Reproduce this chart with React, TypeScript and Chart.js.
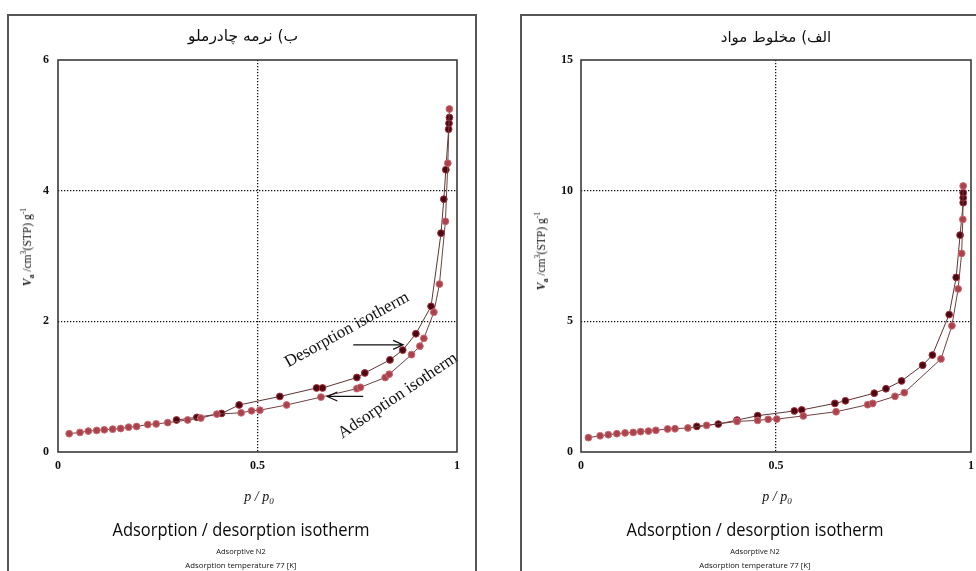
import React, { useEffect, useRef } from 'react';
import { Chart, registerables } from 'chart.js';
Chart.register(...registerables);

// ---------- data: left panel (ب) نرمه چادرملو) ----------
const leftAdsP = [0.028, 0.055, 0.076, 0.097, 0.116, 0.137, 0.157, 0.177, 0.197, 0.225, 0.246, 0.275, 0.325, 0.358, 0.398, 0.459, 0.485, 0.506, 0.573, 0.659, 0.749, 0.758, 0.82, 0.83, 0.886, 0.907, 0.917, 0.942, 0.956, 0.971, 0.977, 0.981];
const leftAdsV = [0.28, 0.30, 0.32, 0.33, 0.34, 0.35, 0.36, 0.38, 0.39, 0.42, 0.43, 0.45, 0.49, 0.52, 0.58, 0.60, 0.63, 0.64, 0.72, 0.84, 0.97, 0.99, 1.14, 1.19, 1.49, 1.62, 1.74, 2.14, 2.57, 3.53, 4.42, 5.25];
const leftDesP = [0.297, 0.348, 0.41, 0.454, 0.556, 0.648, 0.663, 0.749, 0.769, 0.832, 0.864, 0.897, 0.935, 0.960, 0.967, 0.972, 0.979, 0.980, 0.981];
const leftDesV = [0.49, 0.53, 0.59, 0.72, 0.85, 0.98, 0.98, 1.14, 1.21, 1.41, 1.56, 1.81, 2.23, 3.35, 3.87, 4.32, 4.94, 5.03, 5.12];
const leftYTicks = [0, 2, 4, 6];

// ---------- data: right panel (الف) مخلوط مواد) ----------
const rightAdsP = [0.019, 0.049, 0.070, 0.092, 0.113, 0.134, 0.153, 0.173, 0.192, 0.222, 0.241, 0.274, 0.322, 0.40, 0.453, 0.480, 0.502, 0.570, 0.654, 0.735, 0.748, 0.805, 0.829, 0.923, 0.951, 0.967, 0.976, 0.979, 0.980];
const rightAdsV = [0.55, 0.62, 0.66, 0.70, 0.73, 0.75, 0.78, 0.80, 0.83, 0.88, 0.89, 0.92, 1.02, 1.17, 1.21, 1.25, 1.26, 1.38, 1.54, 1.81, 1.86, 2.13, 2.27, 3.56, 4.83, 6.24, 7.6, 8.9, 10.18];
const rightDesP = [0.297, 0.352, 0.40, 0.453, 0.547, 0.566, 0.651, 0.678, 0.752, 0.782, 0.822, 0.876, 0.901, 0.944, 0.962, 0.972, 0.980, 0.980, 0.980];
const rightDesV = [0.98, 1.07, 1.22, 1.39, 1.57, 1.61, 1.86, 1.96, 2.25, 2.42, 2.72, 3.32, 3.71, 5.26, 6.68, 8.3, 9.54, 9.73, 9.92];
const rightYTicks = [0, 5, 10, 15];

const xTicks = [0, 0.5, 1];
const xTickLabels = ['0', '0.5', '1'];

// annotations (left panel), in data coordinates
const leftNotes = [
  { text: 'Desorption isotherm', p: 0.724, v: 1.87, angle: -29 },
  { text: 'Adsorption isotherm', p: 0.852, v: 0.86, angle: -34 },
];
const leftArrows = [
  { p0: 0.74, v0: 1.64, p1: 0.865, v1: 1.64 },
  { p0: 0.765, v0: 0.85, p1: 0.675, v1: 0.85 },
];

type Note = { text: string; p: number; v: number; angle: number };
type Arrow = { p0: number; v0: number; p1: number; v1: number };

const framePlugin = {
  id: 'frame',
  afterDraw(chart: any) {
    const { ctx, chartArea: a } = chart;
    ctx.save();
    ctx.strokeStyle = '#3a3a3a';
    ctx.lineWidth = 1.6;
    ctx.strokeRect(a.left, a.top, a.right - a.left, a.bottom - a.top);
    ctx.restore();
  },
};

const notesPlugin = {
  id: 'notes',
  afterDatasetsDraw(chart: any, _args: any, opts: any) {
    const notes: Note[] = opts.notes || [];
    const arrows: Arrow[] = opts.arrows || [];
    const { ctx, scales } = chart;
    const xs = scales.x, ys = scales.y;
    ctx.save();
    ctx.fillStyle = '#111';
    ctx.font = '17px "Liberation Serif", "DejaVu Serif", serif';
    ctx.textAlign = 'center';
    ctx.textBaseline = 'middle';
    for (const n of notes) {
      ctx.save();
      ctx.translate(xs.getPixelForValue(n.p), ys.getPixelForValue(n.v));
      ctx.rotate((n.angle * Math.PI) / 180);
      ctx.fillText(n.text, 0, 0);
      ctx.restore();
    }
    ctx.strokeStyle = '#111';
    ctx.lineWidth = 1.2;
    for (const ar of arrows) {
      const x0 = xs.getPixelForValue(ar.p0), y0 = ys.getPixelForValue(ar.v0);
      const x1 = xs.getPixelForValue(ar.p1), y1 = ys.getPixelForValue(ar.v1);
      const ang = Math.atan2(y1 - y0, x1 - x0);
      const hl = 11, ha = 0.42;
      ctx.beginPath();
      ctx.moveTo(x0, y0);
      ctx.lineTo(x1, y1);
      ctx.moveTo(x1 - hl * Math.cos(ang - ha), y1 - hl * Math.sin(ang - ha));
      ctx.lineTo(x1, y1);
      ctx.lineTo(x1 - hl * Math.cos(ang + ha), y1 - hl * Math.sin(ang + ha));
      ctx.stroke();
    }
    ctx.restore();
  },
};

const zip = (p: number[], v: number[]) => p.map((x, i) => ({ x, y: v[i] }));

type PanelProps = {
  left: number; width: number; yAxisWidth: number; padRight: number; yPad: number;
  adsP: number[]; adsV: number[]; desP: number[]; desV: number[];
  yMax: number; yTicks: number[]; notes?: Note[]; arrows?: Arrow[];
};

function Panel(props: PanelProps) {
  const ref = useRef<HTMLCanvasElement | null>(null);
  useEffect(() => {
    if (!ref.current) return;
    const tickFont = { family: '"Liberation Serif", "DejaVu Serif", serif', size: 12, weight: 'bold' as const };
    const interiorGrid = (ctx: any, lo: number, hi: number) =>
      ctx.tick && ctx.tick.value > lo && ctx.tick.value < hi ? '#111' : 'rgba(0,0,0,0)';
    const chart = new Chart(ref.current, {
      type: 'scatter',
      data: {
        datasets: [
          {
            label: 'Adsorption',
            data: zip(props.adsP, props.adsV),
            showLine: true,
            borderColor: '#6e4040',
            borderWidth: 1,
            pointRadius: 3.4,
            pointBorderWidth: 1,
            pointBackgroundColor: '#a8424c',
            pointBorderColor: '#cf6870',
          },
          {
            label: 'Desorption',
            data: zip(props.desP, props.desV),
            showLine: true,
            borderColor: '#5e3434',
            borderWidth: 1,
            pointRadius: 3.4,
            pointBorderWidth: 1,
            pointBackgroundColor: '#4a0610',
            pointBorderColor: '#a82c38',
          },
        ],
      },
      options: {
        animation: false,
        responsive: false,
        devicePixelRatio: 1,
        layout: { padding: { left: 0, top: 60, right: props.padRight, bottom: 79 } },
        plugins: {
          legend: { display: false },
          tooltip: { enabled: false },
          notes: { notes: props.notes || [], arrows: props.arrows || [] },
        } as any,
        scales: {
          x: {
            type: 'linear',
            min: 0,
            max: 1,
            afterBuildTicks: (s: any) => { s.ticks = xTicks.map((v) => ({ value: v })); },
            afterFit: (s: any) => { s.height = 40; s.paddingLeft = 0; s.paddingRight = 0; },
            ticks: {
              font: tickFont,
              color: '#111',
              padding: 7,
              maxRotation: 0,
              callback: (v: any) => xTickLabels[xTicks.indexOf(Number(v))] ?? '',
            },
            grid: {
              drawTicks: false,
              color: (c: any) => interiorGrid(c, 0, 1),
              lineWidth: 1.3,
            },
            border: { display: false, dash: [1.3, 1.7] },
          },
          y: {
            type: 'linear',
            min: 0,
            max: props.yMax,
            afterBuildTicks: (s: any) => { s.ticks = props.yTicks.map((v) => ({ value: v })); },
            afterFit: (s: any) => { s.width = props.yAxisWidth; s.paddingTop = 0; s.paddingBottom = 0; },
            ticks: { font: tickFont, color: '#111', padding: props.yPad },
            grid: {
              drawTicks: false,
              color: (c: any) => interiorGrid(c, 0, props.yMax),
              lineWidth: 1.3,
            },
            border: { display: false, dash: [1.3, 1.7] },
          },
        },
      },
      plugins: [framePlugin, notesPlugin],
    });
    return () => chart.destroy();
  }, []);
  return (
    <canvas
      ref={ref}
      width={props.width}
      height={571}
      style={{ position: 'absolute', left: props.left, top: 0, width: props.width, height: 571 }}
    />
  );
}

function Label(p: { cx: number; cy: number; rotate?: number; sx?: number; style?: React.CSSProperties; children: React.ReactNode }) {
  return (
    <div
      style={{
        position: 'absolute',
        left: p.cx,
        top: p.cy,
        transform: `translate(-50%,-50%)${p.rotate ? ` rotate(${p.rotate}deg)` : ''}${p.sx ? ` scaleX(${p.sx})` : ''}`,
        whiteSpace: 'nowrap',
        lineHeight: 1,
        color: '#111',
        ...p.style,
      }}
    >
      {p.children}
    </div>
  );
}

const serif = '"Liberation Serif", "DejaVu Serif", serif';
const sans = '"Open Sans", "Noto Sans", sans-serif';

function YTitle({ cx, cy }: { cx: number; cy: number }) {
  return (
    <Label cx={cx} cy={cy} rotate={-90} style={{ fontFamily: serif, fontSize: 11.5 }}>
      <i style={{ fontWeight: 'bold' }}>V</i>
      <sub style={{ fontSize: 8, fontWeight: 'bold' }}>a</sub> /cm<sup style={{ fontSize: 8 }}>3</sup>(STP) g
      <sup style={{ fontSize: 8 }}>-1</sup>
    </Label>
  );
}

function XTitle({ cx, cy }: { cx: number; cy: number }) {
  return (
    <Label cx={cx} cy={cy} style={{ fontFamily: serif, fontSize: 14, fontStyle: 'italic' }}>
      p / p<sub style={{ fontSize: 9 }}>0</sub>
    </Label>
  );
}

function Footer({ cx }: { cx: number }) {
  return (
    <>
      <Label cx={cx} cy={529} sx={0.915} style={{ fontFamily: sans, fontSize: 18, color: '#0a0a0a' }}>
        Adsorption / desorption isotherm
      </Label>
      <Label cx={cx} cy={552} style={{ fontFamily: sans, fontSize: 7.5 }}>
        Adsorptive N2
      </Label>
      <Label cx={cx} cy={566} style={{ fontFamily: sans, fontSize: 7.8 }}>
        Adsorption temperature 77 [K]
      </Label>
    </>
  );
}

export default function App() {
  return (
    <div
      style={{
        position: 'fixed',
        left: 0,
        top: 0,
        width: 976,
        height: 571,
        overflow: 'hidden',
        background: '#fff',
      }}
    >
      <div style={{ position: 'absolute', left: 7, top: 14, width: 466, height: 600, border: '2px solid #555' }} />
      <div style={{ position: 'absolute', left: 520, top: 14, width: 500, height: 600, border: '2px solid #555' }} />
      <Panel
        left={0}
        width={488}
        yAxisWidth={58}
        padRight={31}
        yPad={9}
        adsP={leftAdsP}
        adsV={leftAdsV}
        desP={leftDesP}
        desV={leftDesV}
        yMax={6}
        yTicks={leftYTicks}
        notes={leftNotes}
        arrows={leftArrows}
      />
      <Panel
        left={488}
        width={488}
        yAxisWidth={93}
        padRight={5}
        yPad={8}
        adsP={rightAdsP}
        adsV={rightAdsV}
        desP={rightDesP}
        desV={rightDesV}
        yMax={15}
        yTicks={rightYTicks}
      />
      <Label cx={243} cy={37} style={{ fontFamily: '"DejaVu Sans", sans-serif', fontSize: 15.5 }}>
        <span dir="rtl">ب) نرمه چادرملو</span>
      </Label>
      <Label cx={776} cy={37} style={{ fontFamily: '"DejaVu Sans", sans-serif', fontSize: 15 }}>
        <span dir="rtl">الف) مخلوط مواد</span>
      </Label>
      <YTitle cx={28} cy={247} />
      <YTitle cx={542} cy={251} />
      <XTitle cx={259} cy={498} />
      <XTitle cx={777} cy={498} />
      <Footer cx={241} />
      <Footer cx={755} />
    </div>
  );
}
